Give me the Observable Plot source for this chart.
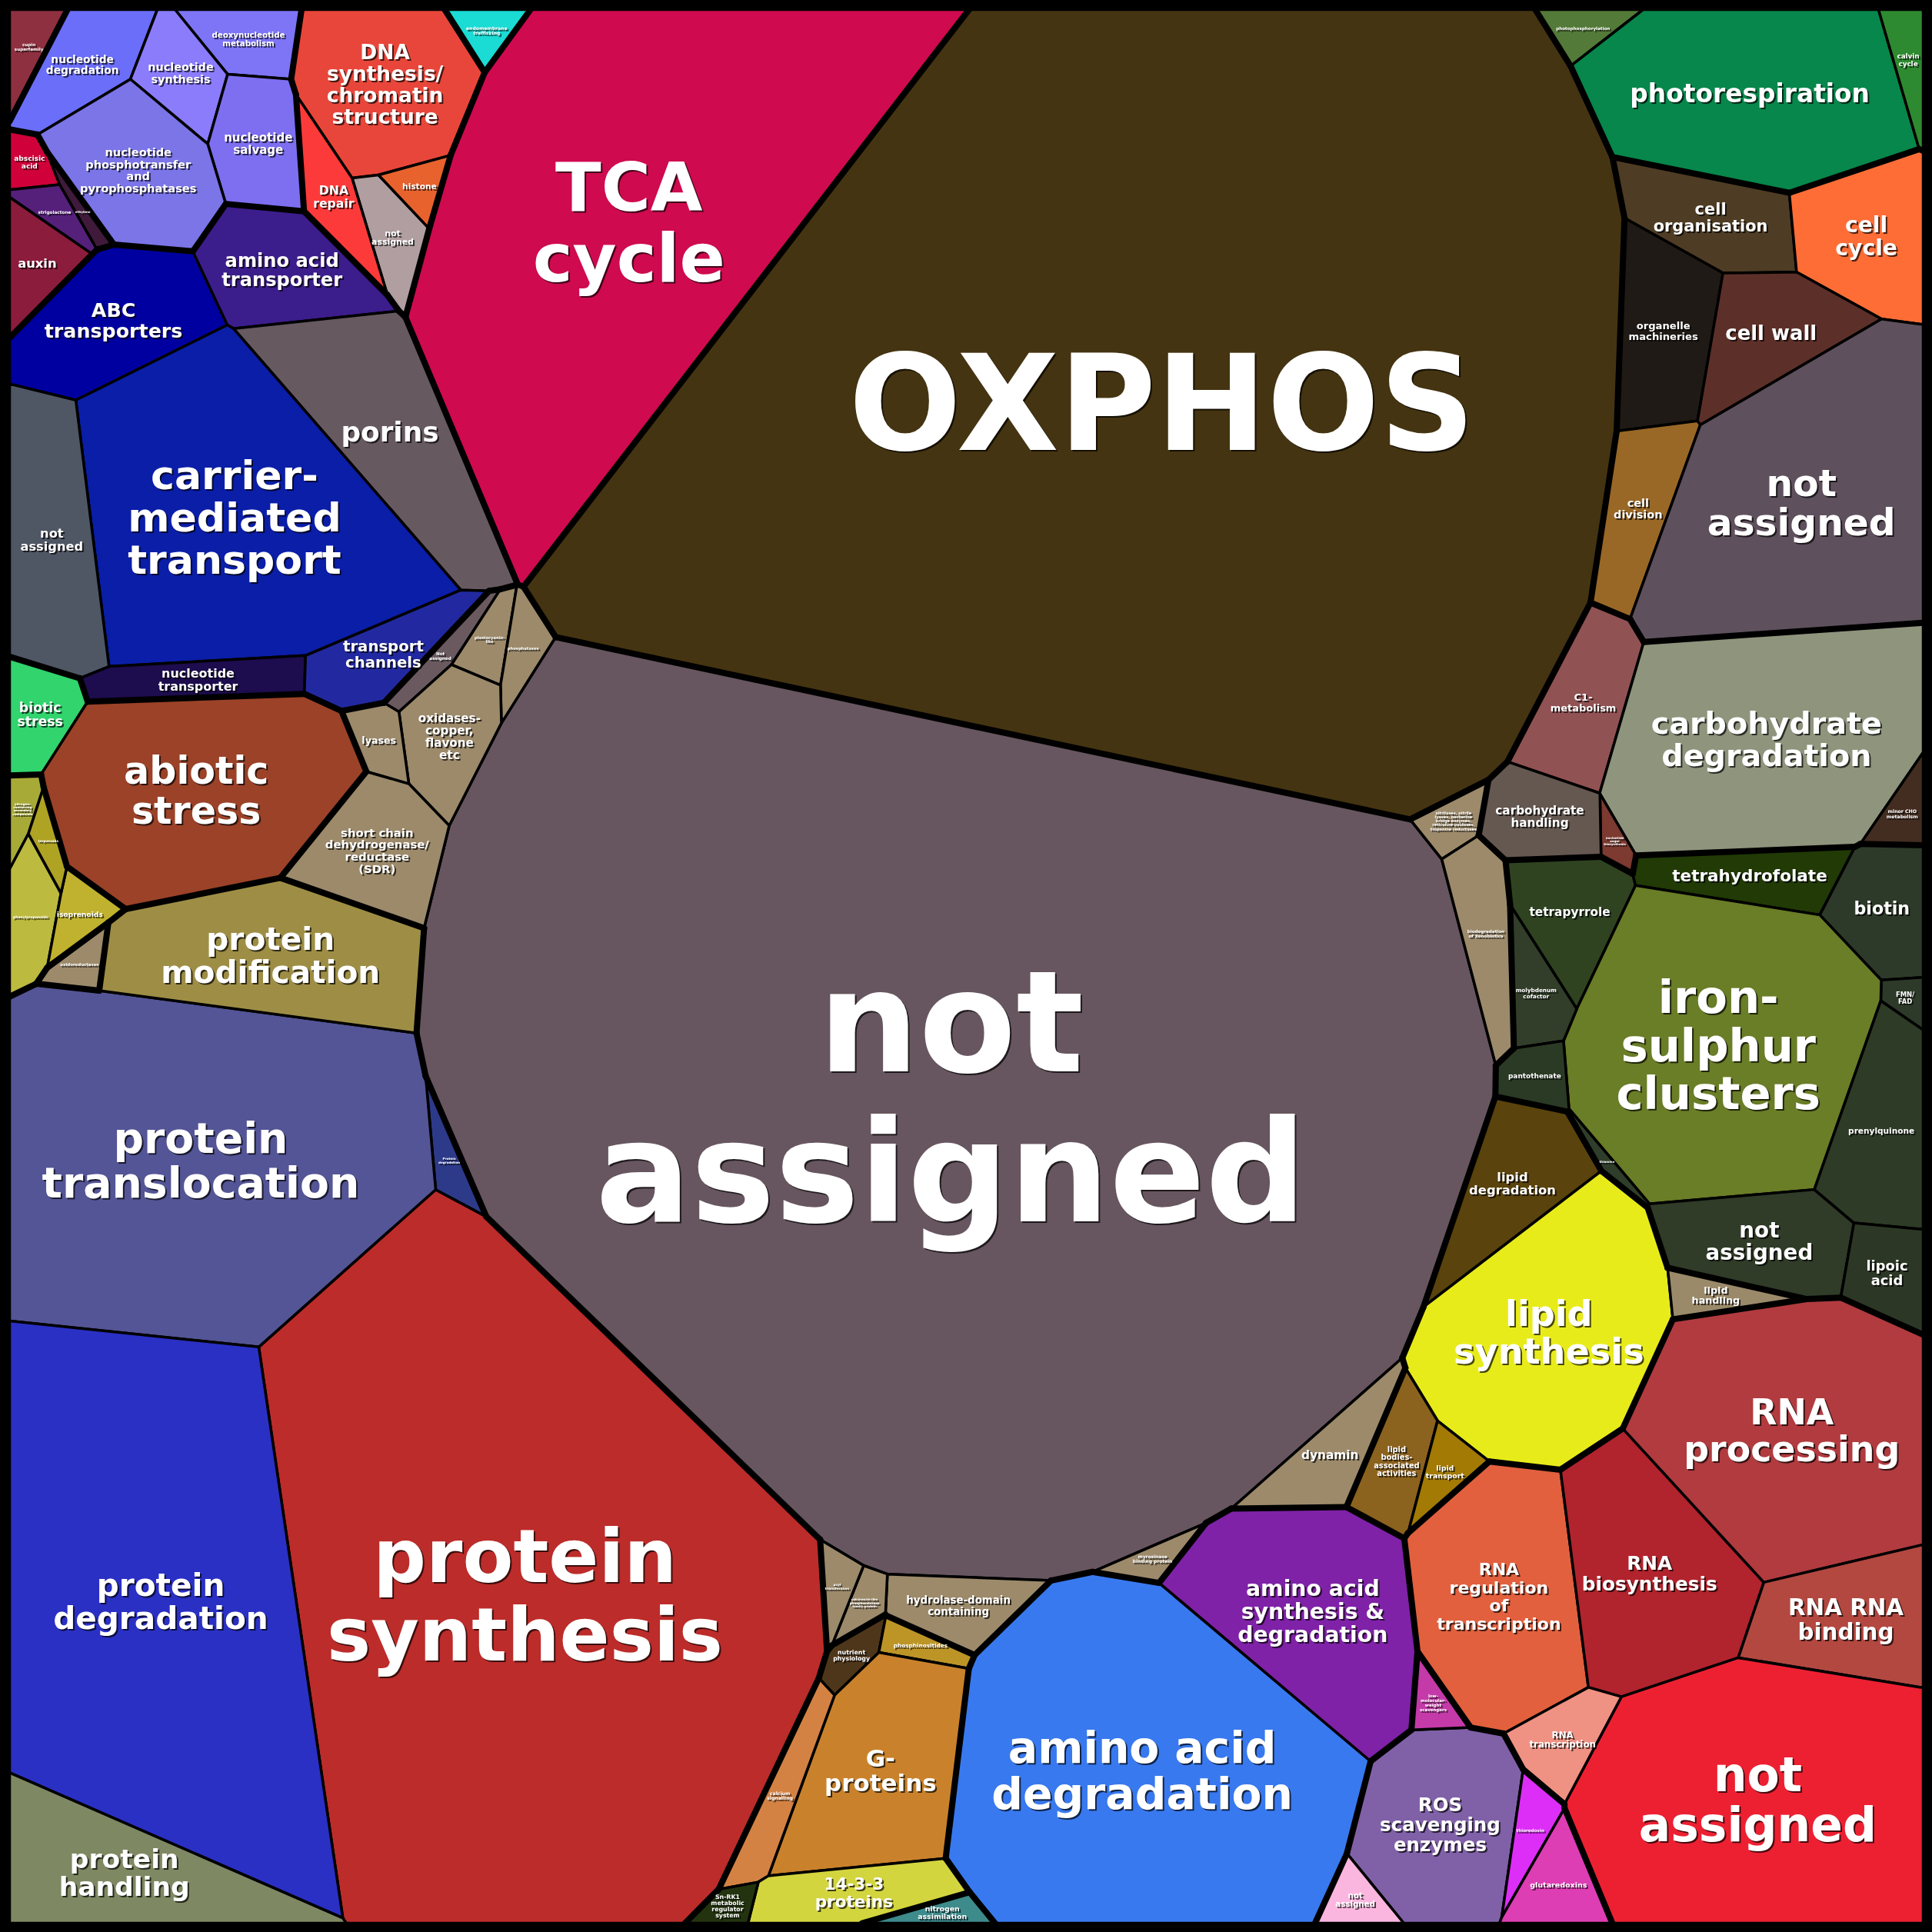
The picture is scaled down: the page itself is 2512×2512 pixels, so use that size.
<!DOCTYPE html>
<html><head><meta charset="utf-8">
<script src="https://cdn.jsdelivr.net/npm/d3@7"></script>
<script src="https://cdn.jsdelivr.net/npm/@observablehq/plot@0.6"></script>
<style>body{margin:0;background:#fff}</style>
</head><body><div id="chart"></div>
<script>
// ---- data: categories (leaf functional bins), their top-level group, protein share (area units) ----
const labels = ["cupin\nsuperfamily","abscisic\nacid","auxin","ethylene","strigolactone",
"nucleotide\ndegradation","deoxynucleotide\nmetabolism","nucleotide\nsynthesis","nucleotide\nsalvage","nucleotide\nphosphotransfer\nand\npyrophosphatases",
"DNA\nsynthesis/\nchromatin\nstructure","not\nassigned","DNA\nrepair","histone",
"endomembrane\ntrafficking","TCA\ncycle","OXPHOS",
"photophosphorylation","photorespiration","calvin\ncycle",
"cell\norganisation","cell\ncycle","organelle\nmachineries","cell wall","cell\ndivision","not\nassigned",
"C1-\nmetabolism","carbohydrate\ndegradation","minor CHO\nmetabolism","nucleotide\nsugar\nbiosynthesis","carbohydrate\nhandling",
"tetrapyrrole","tetrahydrofolate","biotin","FMN/\nFAD","iron-\nsulphur\nclusters","molybdenum\ncofactor","pantothenate","thiamine","not\nassigned","prenylquinone","lipoic\nacid",
"lipid\ndegradation","lipid\nsynthesis","lipid\nhandling","lipid\nbodies-\nassociated\nactivities","lipid\ntransport",
"not\nassigned","plastocyanin-\nlike","phosphatases","Not\nassigned","oxidases-\ncopper,\nflavone\netc","lyases","short chain\ndehydrogenase/\nreductase\n(SDR)","oxidoreductases",
"nitrilases, nitrile\nlyases, berberine\nbridge enzymes,\nreticuline oxidases,\ntroponine reductases","biodegradation\nof Xenobiotics","dynamin","myrosinase\nbinding protein","hydrolase-domain\ncontaining","calcineurin-like\nphosphoesterase\nfamily protein","acyl\ntransferases",
"nutrient\nphysiology","phosphinositides","G-\nproteins","calcium\nsignalling","14-3-3\nproteins","Sn-RK1\nmetabolic\nregulator\nsystem",
"nitrogen\nassimilation",
"amino acid\ndegradation","amino acid\nsynthesis &\ndegradation",
"ROS\nscavenging\nenzymes","not\nassigned","low-\nmolecular-\nweight\nscavengers","thioredoxin","glutaredoxins",
"RNA\nregulation\nof\ntranscription","RNA\nbiosynthesis","RNA\nprocessing","RNA RNA\nbinding","not\nassigned","RNA\ntranscription",
"protein\nsynthesis","Protein\ndegradation","protein\ntranslocation","protein\nmodification","protein\ndegradation","protein\nhandling",
"ABC\ntransporters","amino acid\ntransporter","porins","carrier-\nmediated\ntransport","not\nassigned","nucleotide\ntransporter","transport\nchannels",
"biotic\nstress","abiotic\nstress",
"nitrogen-\ncontaining\nsecondary\ncompounds","phenylpropanoids","isoprenoids","terpenoids"];

const groups = ["hormones","hormones","hormones","hormones","hormones",
"nucleotide","nucleotide","nucleotide","nucleotide","nucleotide",
"DNA","DNA","DNA","DNA",
"vesicle","TCA","OXPHOS",
"photosynthesis","photosynthesis","photosynthesis",
"cell","cell","cell","cell","cell","cell",
"carbohydrate","carbohydrate","carbohydrate","carbohydrate","carbohydrate",
"cofactor","cofactor","cofactor","cofactor","cofactor","cofactor","cofactor","cofactor","cofactor","cofactor","cofactor",
"lipid","lipid","lipid","lipid","lipid",
"na","na","na","na","na","na","na","na","na","na","na","na","na","na","na",
"signalling","signalling","signalling","signalling","signalling","signalling",
"nitrogen",
"aminoacid","aminoacid",
"redox","redox","redox","redox","redox",
"RNA","RNA","RNA","RNA","RNA","RNA",
"protein","protein","protein","protein","protein","protein",
"transport","transport","transport","transport","transport","transport","transport",
"stress","stress",
"secondary","secondary","secondary","secondary"];

const values = [5.4,3.6,9.5,1.9,3.6,
17.0,10.6,12.1,17.9,33.5,
42.0,9.1,10.6,4.0,
4.5,279,1083,
5.1,83.2,5.7,
23.3,29.2,27.8,24.5,19.6,113.9,
23.3,105.2,4.9,2.4,15.8,
19.5,17.0,17.9,2.6,127.8,9.0,6.7,2.0,28.2,28.3,11.7,
26.4,87.1,5.9,13.2,5.9,
1232,5.3,6.0,4.6,17.5,5.8,25.8,4.1,5.2,15.7,15.2,3.8,13.8,3.6,4.1,
4.2,4.1,50.6,11.2,17.0,3.1,
3.5,
190.8,69.2,
46.2,5.2,3.9,6.0,11.0,
62.3,58.3,108.7,31.5,137.8,11.5,
495.8,4.6,211.7,60.3,243.9,43.5,
36.1,27.7,54.3,139.2,38.3,13.2,16.6,
10.9,88.0,
3.3,9.7,5.8,3.0];

// layout seeds (where each cell sits in the map)
const seedX = [36,40,60,110,36, 105,330,235,335,180, 510,565,450,535, 637,827,1506, 2062,2270,2480,
2220,2420,2160,2300,2135,2340, 2060,2300,2475,2094,1995,
2030,2280,2450,2477,2240,1988,1985,2095,2290,2445,2450,
1967,2010,2233,1810,1882,
1235,645,705,581,595,490,488,486,1860,1912,1720,1500,1250,1120,1069,
1109,1199,1150,1010,1115,952, 1228, 1480,1700, 1875,1771,1868,1995,2040,
1950,2150,2330,2400,2290,2040, 677,620,263,330,209,160,
150,360,500,301,80,260,500, 50,260, 35,48,115,45];
const seedY = [62,225,310,287,377, 85,50,100,190,230, 115,215,265,307, 37,290,525, 44,125,81,
290,315,440,445,665,660, 910,960,1057,1096,1070,
1190,1145,1190,1313,1365,1295,1400,1515,1610,1470,1650,
1545,1730,1682,1890,1905,
1428,852,862,869,965,975,1112,1235,1075,1220,1880,2019,2090,2085,2060,
2155,2152,2300,2330,2465,2475, 2484, 2300,2090, 2380,2471,2205,2387,2460,
2070,2040,1860,2100,2350,2270, 2073,1505,1520,1250,2079,2434,
430,365,560,665,690,885,860, 935,1040, 1062,1155,1195,1240];

const palette = ["#8e3040","#d0003a","#8b1c3c","#3f1a3a","#55207a",
"#6b6ef8","#7d74f6","#8a7cfb","#7d6ff0","#7b75e8",
"#e8463a","#b09ea0","#fd3a3a","#e8622e",
"#1adcd4","#cf0a4f","#453411",
"#537a38","#07874b","#2e8a30",
"#4e3c24","#fe6d36","#1f1a15","#5c3029","#9a6826","#5e505c",
"#915253","#8f947d","#432d21","#7c3a30","#655850",
"#2f4321","#213a06","#2e3a29","#2e3a29","#6a7d27","#323e2a","#2b3a25","#2f3e2a","#303b28","#2e3b26","#2c3825",
"#5a430c","#e8eb1a","#9b8a6a","#8b621e","#a27a04",
"#67565f","#9c8a6b","#9c8a6b","#6a5a60","#9c8a6b","#9c8a6b","#9c8a6b","#9c8a6b","#9c8a6b","#9c8a6b","#9c8a6b","#9c8a6b","#9c8a6b","#9c8a6b","#9c8a6b",
"#4e361a","#bd9527","#c9822b","#d48244","#d3d53f","#23330f",
"#3e8b8c",
"#3879ef","#7f22a7",
"#8061a8","#fbb6e0","#c43aa8","#dd2ef7","#dd3eb4",
"#e2603e","#b1232d","#b13b3f","#b34841","#ed2032","#ef9183",
"#bc2c2a","#2d3a8a","#545596","#9e8e45","#2a30c4","#7e8862",
"#0000a0","#3c1d8c","#675960","#0a1ea8","#4f5664","#1d0c4e","#2229a0",
"#31d46d","#9b4228",
"#a8aa37","#bcba3f","#c0b22e","#afa324"];

// ---- power-diagram (Voronoi treemap) layout ----
const S = 2512, B0 = 12, B1 = 2500;
const n = labels.length;
const total = d3.sum(values);
const target = values.map(v => v / total * (B1 - B0) * (B1 - B0));
const sx = Float64Array.from(seedX), sy = Float64Array.from(seedY);
const w = new Float64Array(n);

function cell(i) {
  let poly = [{x:B0,y:B0,l:-1},{x:B1,y:B0,l:-1},{x:B1,y:B1,l:-1},{x:B0,y:B1,l:-1}];
  const si2 = sx[i]*sx[i] + sy[i]*sy[i];
  for (let j = 0; j < n && poly.length; j++) {
    if (j === i) continue;
    const ax = 2*(sx[j]-sx[i]), ay = 2*(sy[j]-sy[i]);
    const c = sx[j]*sx[j] + sy[j]*sy[j] - si2 + w[i] - w[j];
    const f = poly.map(p => ax*p.x + ay*p.y - c);
    if (f.every(v => v <= 0)) continue;
    const out = [];
    for (let k = 0; k < poly.length; k++) {
      const a = poly[k], b = poly[(k+1) % poly.length], fa = f[k], fb = f[(k+1) % poly.length];
      if (fa <= 0) {
        out.push(a);
        if (fb > 0) { const t = fa/(fa-fb); out.push({x:a.x+t*(b.x-a.x), y:a.y+t*(b.y-a.y), l:j}); }
      } else if (fb <= 0) {
        const t = fa/(fa-fb); out.push({x:a.x+t*(b.x-a.x), y:a.y+t*(b.y-a.y), l:a.l});
      }
    }
    poly = out;
  }
  return poly;
}
function measure(poly) {
  let A = 0, cx = 0, cy = 0;
  for (let k = 0; k < poly.length; k++) {
    const a = poly[k], b = poly[(k+1) % poly.length];
    const cr = a.x*b.y - b.x*a.y;
    A += cr; cx += (a.x+b.x)*cr; cy += (a.y+b.y)*cr;
  }
  A /= 2;
  return A > 1e-9 ? {A, cx: cx/(6*A), cy: cy/(6*A)} : {A: 0, cx: NaN, cy: NaN};
}
function solveWeights(iters) {
  for (let it = 0; it < iters; it++) {
    const dw = new Float64Array(n);
    for (let i = 0; i < n; i++) {
      const poly = cell(i), m = measure(poly);
      if (m.A <= 0) { dw[i] = 0.5*target[i]; continue; }
      let H = 0;
      for (let k = 0; k < poly.length; k++) {
        const a = poly[k], b = poly[(k+1) % poly.length];
        if (a.l < 0) continue;
        const d = Math.hypot(sx[a.l]-sx[i], sy[a.l]-sy[i]);
        H += Math.hypot(b.x-a.x, b.y-a.y) / (2*d);
      }
      dw[i] = H > 0 ? 0.6*(target[i]-m.A)/H : 0;
    }
    for (let i = 0; i < n; i++) w[i] += dw[i];
  }
}
solveWeights(300);
for (let outer = 0; outer < 10; outer++) {
  const moves = [];
  for (let i = 0; i < n; i++) {
    const m = measure(cell(i));
    if (!(m.A > 0)) { moves.push([0, 0]); continue; }
    let dx = 0.55*(seedX[i]-m.cx), dy = 0.55*(seedY[i]-m.cy);
    const len = Math.hypot(dx, dy), cap = 35;
    if (len > cap) { dx *= cap/len; dy *= cap/len; }
    moves.push([dx, dy]);
  }
  for (let i = 0; i < n; i++) { sx[i] += moves[i][0]; sy[i] += moves[i][1]; }
  solveWeights(80);
}
solveWeights(120);

// ---- build mark data ----
const vertices = [], borders = [], labelData = [];
const ctx = document.createElement("canvas").getContext("2d");
ctx.font = 'bold 100px "DejaVu Sans"';
function chord(poly, px, py, horiz) {
  const hits = [];
  for (let k = 0; k < poly.length; k++) {
    const a = poly[k], b = poly[(k+1) % poly.length];
    const ua = horiz ? a.y : a.x, ub = horiz ? b.y : b.x, u = horiz ? py : px;
    if ((ua <= u && ub > u) || (ub <= u && ua > u)) {
      const t = (u-ua)/(ub-ua);
      hits.push(horiz ? a.x + t*(b.x-a.x) : a.y + t*(b.y-a.y));
    }
  }
  hits.sort((p,q) => p-q);
  return hits.length >= 2 ? hits[hits.length-1]-hits[0] : 0;
}
for (let i = 0; i < n; i++) {
  const poly = cell(i);
  if (!poly.length) continue;
  poly.forEach(p => vertices.push({id: i, x: p.x, y: p.y, color: palette[i]}));
  poly.forEach((a, k) => {
    const b = poly[(k+1) % poly.length];
    if (a.l >= 0 && a.l > i && groups[a.l] !== groups[i]) borders.push({x1:a.x, y1:a.y, x2:b.x, y2:b.y});
  });
  const m = measure(poly);
  if (!(m.A > 0)) continue;
  const lines = labels[i].split("\n");
  const em = d3.max(lines, s => ctx.measureText(s).width / 100);
  const Hh = chord(poly, m.cx, m.cy, false);
  let fs = Math.min(0.165*Math.sqrt(m.A), 0.75*chord(poly, m.cx, m.cy, true)/em, 0.72*Hh/(lines.length*1.06));
  for (let r = 0; r < 2; r++) {
    const half = 0.42*fs*lines.length;
    const Wm = Math.min(chord(poly, m.cx, m.cy, true), chord(poly, m.cx, m.cy - half, true), chord(poly, m.cx, m.cy + half, true));
    fs = Math.min(fs, 0.8*Wm/em);
  }
  fs = Math.max(4, fs);
  labelData.push({x: m.cx, y: m.cy, text: labels[i], fs});
}

const chart = Plot.plot({
  width: S, height: S, margin: 0,
  x: {domain: [0, S], range: [0, S], axis: null},
  y: {domain: [0, S], range: [0, S], axis: null},
  color: {type: "identity"},
  marks: [
    Plot.line(vertices, {x: "x", y: "y", z: "id", fill: "color", stroke: "black", strokeWidth: 3.5, curve: "linear-closed", strokeLinejoin: "round"}),
    Plot.link(borders, {x1: "x1", y1: "y1", x2: "x2", y2: "y2", stroke: "black", strokeWidth: 8, strokeLinecap: "round"}),
    Plot.text(labelData, {x: "x", y: "y", text: "text", fontSize: "fs", fill: "white", fontFamily: "DejaVu Sans", fontWeight: "bold", lineAnchor: "middle", lineHeight: 1.06}),
    Plot.frame({stroke: "black", strokeWidth: 24})
  ]
});
// soft dark drop shadow behind the white labels, as in the reference
d3.select(chart).selectAll('g[aria-label="text"]').style("filter", "drop-shadow(2px 2px 0.5px rgba(0,0,0,0.7))");
document.getElementById("chart").appendChild(chart);
</script>
</body></html>
